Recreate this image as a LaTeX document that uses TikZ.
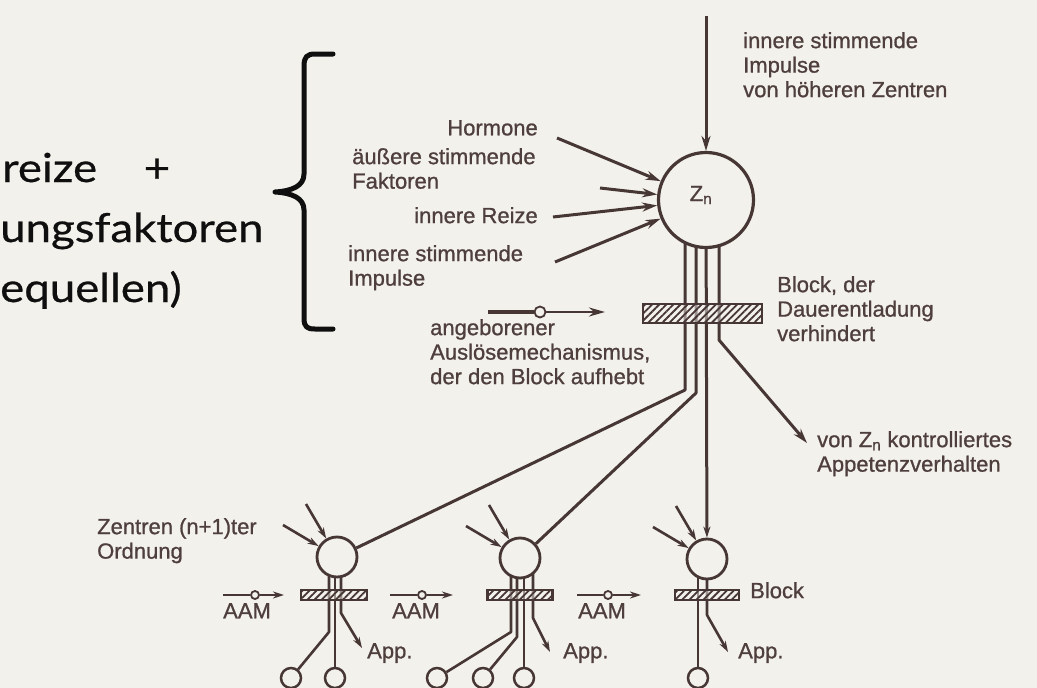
\documentclass[tikz,border=0pt]{standalone}
\usepackage{fontspec}
\setmainfont{Liberation Sans}
\newfontfamily\labfam[FakeBold=0.9]{Liberation Sans}
\newfontfamily\gillfont[FakeStretch=1.14,FakeBold=0.6]{Lato}
\usetikzlibrary{arrows.meta,patterns.meta,calc}
\definecolor{bg}{RGB}{243,241,235}
\definecolor{ink}{RGB}{70,54,52}
\definecolor{txt}{RGB}{78,62,60}
\definecolor{blk}{RGB}{15,15,15}
\pgfdeclarelayer{back}
\pgfsetlayers{back,main}
\newcommand\labfont{\labfam\fontsize{22}{24.5}\selectfont}
\newcommand\bigfont{\gillfont\fontsize{40}{44}\selectfont}
\begin{document}
\begin{tikzpicture}[x=1pt,y=-1pt,
 conn/.style={draw=ink, line width=3pt, line join=round},
 lconn/.style={draw=ink, line width=2.6pt, line join=round},
 bigtip/.style={-{Stealth[length=15pt,width=9pt]}},
 smalltip/.style={-{Stealth[length=11pt,width=7pt]}},
 bigcirc/.style={circle, draw=ink, line width=3.2pt, fill=bg, minimum size=95pt, inner sep=0pt},
 midcirc/.style={circle, draw=ink, line width=2.8pt, fill=bg, minimum size=40pt, inner sep=0pt},
 smallcirc/.style={circle, draw=ink, line width=2.5pt, fill=bg, minimum size=20pt, inner sep=0pt},
 tinycirc/.style={circle, draw=ink, line width=1.8pt, fill=bg, minimum size=8pt, inner sep=0pt},
 blockbox/.style={rectangle, draw=ink, line width=2.8pt, inner sep=0pt, preaction={fill=bg, fill opacity=0.5}, pattern={Lines[angle=45,distance=5pt,line width=1.8pt]}, pattern color=ink},
 lbl/.style={font=\labfont, text=txt, inner sep=0pt, align=left},
 lblr/.style={font=\labfont, text=txt, inner sep=0pt, align=right},
 big/.style={font=\bigfont, text=blk, inner sep=0pt}
]
\begin{pgfonlayer}{back}
\fill[bg] (0,0) rectangle (1037,688);
\end{pgfonlayer}
\useasboundingbox (0,0) rectangle (1037,688);

% left large text (cropped)
\node[big, anchor=base west] (reize) at (2,182) {reize};
\node[big, anchor=base] (plus) at (157,182) {+};
\node[big, anchor=base west] (faktoren) at (0,242) {ungsfaktoren};
\node[big, anchor=base west] (quellen) at (0,302) {equellen)};

% brace
\draw[blk, line width=5pt, line cap=round, line join=round]
 (333,54) -- (315,54) .. controls (307,54) and (304,57) .. (304,66) -- (304,174)
 .. controls (304,186) and (292,191) .. (275,192)
 .. controls (292,193) and (304,198) .. (304,210) -- (304,318)
 .. controls (304,327) and (307,329) .. (315,329) -- (333,329);

% main centre
\node[bigcirc] (Zn) at (706,200) {};
\node[lbl] (zntxt) at (701,195) {Z\textsubscript{n}};
\node[blockbox, minimum width=119pt, minimum height=19pt] (mainblock) at (702.5,313.5) {};

% lower centres
\node[midcirc] (lc) at (337,557) {};
\node[midcirc] (mc) at (520,558) {};
\node[midcirc] (rc) at (707,559) {};
\node[blockbox, minimum width=66pt, minimum height=10pt] (lb) at (334,595) {};
\node[blockbox, minimum width=65pt, minimum height=10pt] (mb) at (520,595) {};
\node[blockbox, minimum width=64pt, minimum height=10pt] (rb) at (707,595) {};

% small end circles
\node[smallcirc] (s1) at (291,678) {};
\node[smallcirc] (s2) at (335,678) {};
\node[smallcirc] (s3) at (437,678) {};
\node[smallcirc] (s4) at (483,678) {};
\node[smallcirc] (s5) at (524,678) {};
\node[smallcirc] (s6) at (698,678) {};

% AAM circles
\node[tinycirc, minimum size=11pt] (amc) at (540,312) {};
\node[tinycirc] (a1c) at (255,595) {};
\node[tinycirc] (a2c) at (422,595) {};
\node[tinycirc] (a3c) at (608,595) {};

% free ends
\coordinate (topin) at (706,16);
\coordinate (h1) at (557,138);
\coordinate (h2) at (600,188);
\coordinate (h3) at (553,217);
\coordinate (h4) at (555,262);
\coordinate (ams) at (488,312);
\coordinate (ame) at (605,312);
\coordinate (appZ) at (807,443);
\coordinate (appL) at (362,648);
\coordinate (appM) at (550,652);
\coordinate (appR) at (728,652);
\coordinate (a1s) at (223,595);
\coordinate (a1e) at (284,595);
\coordinate (a2s) at (390,595);
\coordinate (a2e) at (453,595);
\coordinate (a3s) at (577,595);
\coordinate (a3e) at (641,595);

% labels
\node[lblr, anchor=north east] (hormone) at (538,120) {Hormone};
\node[lbl, anchor=north west] (aeussere) at (352,148) {äußere stimmende\\Faktoren};
\node[lblr, anchor=north east] (innreize) at (538,207) {innere Reize};
\node[lbl, anchor=north west] (impulse) at (348,245) {innere stimmende\\Impulse};
\node[lbl, anchor=north west] (aamtxt) at (430,319) {angeborener\\Auslösemechanismus,\\der den Block aufhebt};
\node[lbl, anchor=north west] (toptxt) at (743,32) {innere stimmende\\Impulse\\von höheren Zentren};
\node[lbl, anchor=north west] (blocktxt) at (777,276) {Block, der\\Dauerentladung\\verhindert};
\node[lbl, anchor=north west] (apptxt) at (817,431) {von Z\textsubscript{n} kontrolliertes\\Appetenzverhalten};
\node[lbl, anchor=north west] (zentren) at (97,518) {Zentren (n+1)ter\\Ordnung};
\node[lbl, anchor=north west] (aamA) at (223,603) {AAM};
\node[lbl, anchor=north west] (aamB) at (392,603) {AAM};
\node[lbl, anchor=north west] (aamC) at (578,603) {AAM};
\node[lbl, anchor=north west] (appA) at (367,643) {App.};
\node[lbl, anchor=north west] (appB) at (563,643) {App.};
\node[lbl, anchor=north west] (appC) at (738,643) {App.};
\node[lbl, anchor=north west] (blocksmall) at (750,582) {Block};

\begin{pgfonlayer}{back}
% inputs to Zn
\draw[conn, bigtip] (topin) -- (Zn.north);
\draw[conn, bigtip] (h1) -- (Zn);
\draw[conn, bigtip] (h2) -- (Zn);
\draw[conn, bigtip] (h3) -- (Zn);
\draw[conn, bigtip] (h4) -- (Zn);
% main AAM
\draw[draw=ink, line width=3.4pt] (ams) -- (amc);
\draw[conn, line width=2.6pt, -{Stealth[length=16pt,width=9pt]}] (amc) -- (ame);
% outputs of Zn
\draw[conn] ($(Zn.center)+(-21,0)$) -- ++(0,190) -- (lc.25);
\draw[conn] ($(Zn.center)+(-10,0)$) -- ++(0,193) -- (mc.42);
\draw[conn, smalltip] (Zn) -- (rc);
\draw[conn, bigtip] ($(Zn.center)+(13,0)$) -- ++(0,140) -- (appZ);
% inputs to lower centres
\foreach \c in {lc,mc,rc}{
  \draw[lconn, smalltip] ($(\c.center)+(-31,-53)$) -- (\c);
  \draw[lconn, smalltip] ($(\c.center)+(-54,-32)$) -- (\c);
}
% left group outputs
\draw[lconn] ($(lc.center)+(-8,0)$) -- ++(0,75) -- (s1);
\draw[lconn] ($(lc.center)+(-2,0)$) -- (s2);
\draw[lconn, smalltip] ($(lc.center)+(4,0)$) -- ++(0,56) -- (appL);
% middle group outputs
\draw[lconn] ($(mc.center)+(-9,0)$) -- ++(0,74) -- (s3);
\draw[lconn] ($(mc.center)+(-3,0)$) -- ++(0,79) -- (s4);
\draw[lconn] ($(mc.center)+(4,0)$) -- (s5);
\draw[lconn, smalltip] ($(mc.center)+(13,0)$) -- ++(0,60) -- (appM);
% right group outputs
\draw[lconn] ($(rc.center)+(-9,0)$) -- (s6);
\draw[lconn, smalltip] ($(rc.center)+(0,0)$) -- ++(0,56) -- (appR);
% small AAM arrows
\draw[lconn, line width=2.8pt] (a1s) -- (a1c);
\draw[lconn, line width=2.2pt, smalltip] (a1c) -- (a1e);
\draw[lconn, line width=2.8pt] (a2s) -- (a2c);
\draw[lconn, line width=2.2pt, smalltip] (a2c) -- (a2e);
\draw[lconn, line width=2.8pt] (a3s) -- (a3c);
\draw[lconn, line width=2.2pt, smalltip] (a3c) -- (a3e);
\end{pgfonlayer}
\end{tikzpicture}
\end{document}
